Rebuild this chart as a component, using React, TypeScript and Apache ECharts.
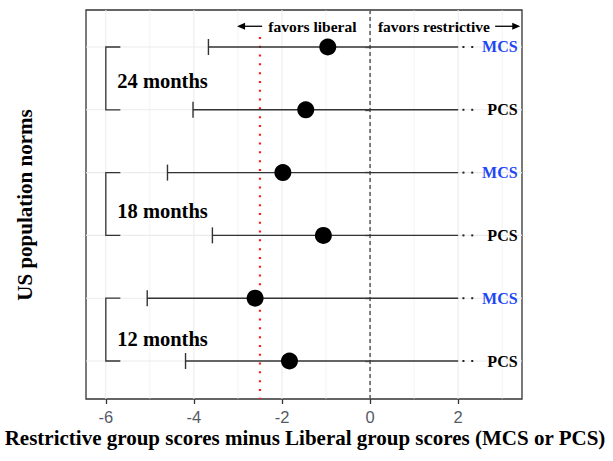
import React, { useEffect, useRef } from "react";
import * as echarts from "echarts";

// ---- data ----
const outcomes = ["MCS", "PCS", "MCS", "PCS", "MCS", "PCS"];
const rows = [1, 2, 3, 4, 5, 6];
const estimates = [-0.96, -1.46, -1.98, -1.06, -2.61, -1.83];
const lowerCI = [-3.67, -4.02, -4.6, -3.58, -5.06, -4.19];
const upperShown = [2.0, 2.0, 2.0, 2.0, 2.0, 2.0]; // truncated upper limits
const timepoints = ["24 months", "18 months", "12 months"];
const timepointRows = [
  [1, 2],
  [3, 4],
  [5, 6],
];
const timepointLabelRows = [1.53, 3.6, 5.64];
const xTicks = [-6, -4, -2, 0, 2];
const xGrid = [-6, -5, -4, -3, -2, -1, 0, 1, 2, 3];
const normLine = -2.5;
const zeroLine = 0;

const X_MIN = -6.45;
const X_MAX = 3.45;
const Y_MIN = 0.411;
const Y_MAX = 6.605;

const SERIF = "'Liberation Serif', 'Times New Roman', serif";
const SANS = "'Liberation Sans', Arial, sans-serif";
const LINE = "#333333";

export default function App() {
  const ref = useRef<HTMLDivElement>(null);
  useEffect(() => {
    if (!ref.current) return;
    document.body.style.margin = "0";
    const chart = echarts.init(ref.current, undefined, { renderer: "svg" });

    const option: any = {
      animation: false,
      grid: {
        left: 86,
        right: 91,
        top: 10,
        bottom: 62,
        show: true,
        borderColor: LINE,
        borderWidth: 1.3,
        backgroundColor: "#ffffff",
      },
      xAxis: {
        type: "value",
        min: X_MIN,
        max: X_MAX,
        axisLine: { show: false },
        axisTick: {
          show: true,
          length: 5,
          customValues: xTicks,
          lineStyle: { color: LINE, width: 1.3 },
        },
        axisLabel: {
          customValues: xTicks,
          margin: 10,
          color: "#555b66",
          fontFamily: SANS,
          fontSize: 16.5,
          lineHeight: 16,
        },
        splitLine: { show: false },
      },
      yAxis: {
        type: "value",
        min: Y_MIN,
        max: Y_MAX,
        inverse: true,
        axisLine: { show: false },
        axisTick: {
          show: true,
          length: 5,
          customValues: rows,
          lineStyle: { color: LINE, width: 1.3 },
        },
        axisLabel: { show: false, customValues: rows },
        splitLine: { show: false },
      },
      graphic: [
        {
          type: "text",
          x: 305,
          y: 437.5,
          style: {
            text: "Restrictive group scores minus Liberal group scores (MCS or PCS)",
            font: `bold 21px ${SERIF}`,
            fill: "#000",
            align: "center",
            verticalAlign: "middle",
          },
        },
        {
          type: "text",
          x: 25,
          y: 205,
          rotation: Math.PI / 2,
          style: {
            text: "US population norms",
            font: `bold 21px ${SERIF}`,
            fill: "#000",
            align: "center",
            verticalAlign: "middle",
          },
        },
      ],
      series: [
        // vertical grid lines
        {
          type: "custom",
          z: 1,
          silent: true,
          data: xGrid.map((v) => [v]),
          encode: { x: 0 },
          renderItem: (params: any, api: any) => {
            const v = api.value(0);
            const p1 = api.coord([v, Y_MIN]);
            const p2 = api.coord([v, Y_MAX]);
            return {
              type: "line",
              shape: { x1: p1[0], y1: p1[1], x2: p2[0], y2: p2[1] },
              style: { stroke: "#ebebeb", lineWidth: v % 2 === 0 ? 1.1 : 0.6 },
            };
          },
        },
        // horizontal grid lines
        {
          type: "custom",
          z: 1,
          silent: true,
          data: rows.map((r) => [r]),
          encode: { y: 0 },
          renderItem: (params: any, api: any) => {
            const r = api.value(0);
            const p1 = api.coord([X_MIN, r]);
            const p2 = api.coord([X_MAX, r]);
            return {
              type: "line",
              shape: { x1: p1[0], y1: p1[1], x2: p2[0], y2: p2[1] },
              style: { stroke: "#ebebeb", lineWidth: 1.1 },
            };
          },
        },
        // zero line (dashed)
        {
          type: "custom",
          z: 2,
          silent: true,
          data: [[zeroLine]],
          encode: { x: 0 },
          renderItem: (params: any, api: any) => {
            const v = api.value(0);
            const p1 = api.coord([v, Y_MIN]);
            const p2 = api.coord([v, Y_MAX]);
            return {
              type: "line",
              shape: { x1: p1[0], y1: p1[1], x2: p2[0], y2: p2[1] },
              style: { stroke: "#222", lineWidth: 1.1, lineDash: [4, 3] },
            };
          },
        },
        // norm line (red dotted)
        {
          type: "custom",
          z: 2,
          silent: true,
          data: [[normLine]],
          encode: { x: 0 },
          renderItem: (params: any, api: any) => {
            const v = api.value(0);
            const p1 = api.coord([v, 0.84]);
            const p2 = api.coord([v, Y_MAX]);
            return {
              type: "line",
              shape: { x1: p1[0], y1: p1[1], x2: p2[0], y2: p2[1] },
              style: { stroke: "#ff1a1a", lineWidth: 2.2, lineDash: [2, 6.8] },
            };
          },
        },
        // error bars + truncation dots + labels
        {
          type: "custom",
          z: 3,
          silent: true,
          data: rows.map((r, i) => [lowerCI[i], upperShown[i], r]),
          encode: { x: [0, 1], y: 2 },
          renderItem: (params: any, api: any) => {
            const i = params.dataIndex;
            const lo = api.coord([api.value(0), api.value(2)]);
            const hi = api.coord([api.value(1), api.value(2)]);
            const d1 = api.coord([2.12, api.value(2)]);
            const d2 = api.coord([2.32, api.value(2)]);
            const lab = api.coord([3.35, api.value(2)]);
            const isMCS = outcomes[i] === "MCS";
            return {
              type: "group",
              children: [
                {
                  type: "line",
                  shape: { x1: lo[0], y1: lo[1], x2: hi[0], y2: hi[1] },
                  style: { stroke: LINE, lineWidth: 1.4 },
                },
                {
                  type: "line",
                  shape: { x1: lo[0], y1: lo[1] - 8, x2: lo[0], y2: lo[1] + 8 },
                  style: { stroke: LINE, lineWidth: 1.4 },
                },
                {
                  type: "rect",
                  shape: { x: d1[0] - 1, y: d1[1] - 1, width: 2, height: 2 },
                  style: { fill: "#222" },
                },
                {
                  type: "rect",
                  shape: { x: d2[0] - 1, y: d2[1] - 1, width: 2, height: 2 },
                  style: { fill: "#222" },
                },
                {
                  type: "text",
                  x: lab[0],
                  y: lab[1],
                  style: {
                    text: outcomes[i],
                    font: `bold 16px ${SERIF}`,
                    fill: isMCS ? "#1f46f5" : "#000000",
                    align: "right",
                    verticalAlign: "middle",
                  },
                },
              ],
            };
          },
        },
        // brackets + time point labels
        {
          type: "custom",
          z: 3,
          silent: true,
          data: timepointRows.map((pr, i) => [-6, pr[0], pr[1], timepointLabelRows[i]]),
          encode: { x: 0, y: [1, 2, 3] },
          renderItem: (params: any, api: any) => {
            const i = params.dataIndex;
            const top = api.coord([api.value(0), api.value(1)]);
            const bot = api.coord([api.value(0), api.value(2)]);
            const armTop = api.coord([-5.67, api.value(1)]);
            const armBot = api.coord([-5.67, api.value(2)]);
            const lab = api.coord([-5.74, api.value(3)]);
            return {
              type: "group",
              children: [
                {
                  type: "polyline",
                  shape: {
                    points: [
                      [armTop[0], armTop[1]],
                      [top[0], top[1]],
                      [bot[0], bot[1]],
                      [armBot[0], armBot[1]],
                    ],
                  },
                  style: { stroke: LINE, lineWidth: 1.3, fill: "none" },
                },
                {
                  type: "text",
                  x: lab[0],
                  y: lab[1] + 1,
                  style: {
                    text: timepoints[i],
                    font: `bold 20.5px ${SERIF}`,
                    fill: "#000",
                    align: "left",
                    verticalAlign: "middle",
                  },
                },
              ],
            };
          },
        },
        // direction annotations
        {
          type: "custom",
          z: 3,
          silent: true,
          data: [[0]],
          encode: { x: 0 },
          renderItem: (params: any, api: any) => {
            const yv = 0.67;
            const la = api.coord([-2.45, yv]);
            const lb = api.coord([-3.02, yv]);
            const ra = api.coord([2.84, yv]);
            const rb = api.coord([3.41, yv]);
            const t1 = api.coord([-1.31, yv]);
            const t2 = api.coord([1.45, yv]);
            const head = (tip: number[], dir: number) => ({
              type: "polygon",
              shape: {
                points: [
                  [tip[0], tip[1]],
                  [tip[0] - dir * 8, tip[1] - 3.5],
                  [tip[0] - dir * 8, tip[1] + 3.5],
                ],
              },
              style: { fill: "#000" },
            });
            return {
              type: "group",
              children: [
                {
                  type: "line",
                  shape: { x1: la[0], y1: la[1], x2: lb[0] + 4, y2: lb[1] },
                  style: { stroke: "#000", lineWidth: 1.3 },
                },
                head(lb, -1),
                {
                  type: "line",
                  shape: { x1: ra[0], y1: ra[1], x2: rb[0] - 4, y2: rb[1] },
                  style: { stroke: "#000", lineWidth: 1.3 },
                },
                head(rb, 1),
                {
                  type: "text",
                  x: t1[0],
                  y: t1[1],
                  style: {
                    text: "favors liberal",
                    font: `bold 15.5px ${SERIF}`,
                    fill: "#000",
                    align: "center",
                    verticalAlign: "middle",
                  },
                },
                {
                  type: "text",
                  x: t2[0],
                  y: t2[1],
                  style: {
                    text: "favors restrictive",
                    font: `bold 15.5px ${SERIF}`,
                    fill: "#000",
                    align: "center",
                    verticalAlign: "middle",
                  },
                },
              ],
            };
          },
        },
        // point estimates
        {
          type: "scatter",
          z: 5,
          symbol: "circle",
          symbolSize: 17,
          itemStyle: { color: "#000000", opacity: 1 },
          data: rows.map((r, i) => [estimates[i], r]),
        },
      ],
    };

    chart.setOption(option);
    return () => chart.dispose();
  }, []);

  return <div ref={ref} style={{ width: 613, height: 461, background: "#fff" }} />;
}
